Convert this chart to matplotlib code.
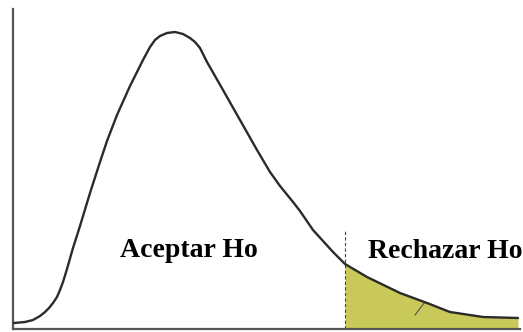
import matplotlib
matplotlib.use("Agg")
import matplotlib.pyplot as plt
import numpy as np

# curve (x position, height above baseline)
curve_x = [14, 25, 33, 40, 45, 49, 53, 57, 60, 63, 67, 73, 80, 90, 100, 107, 117, 130,
           143, 150, 155, 160, 167, 175, 183, 190, 195, 200, 207, 223, 240, 257, 270,
           280, 293, 300, 313, 323, 333, 345, 367, 400, 427, 450, 483, 518]
curve_y = [6, 7, 9, 13, 17, 21, 26, 32, 39, 47, 60, 81, 103, 136, 167, 188, 214, 243,
           269, 282, 289, 293, 296, 297, 295, 291, 287, 281, 267, 239, 209, 179, 157,
           143, 127, 118, 99, 88, 77, 65, 52, 36, 26, 17, 12, 11]
critical_x = 345
labels = ["Aceptar Ho", "Rechazar Ho"]

W, H = 523, 332
fig = plt.figure(figsize=(W / 100, H / 100), dpi=100)
ax = fig.add_axes([13 / W, (H - 329) / H, (520 - 13) / W, (329 - 9) / H])
ax.set_xlim(13, 520)
ax.set_ylim(0, 320)

cx = np.array(curve_x, dtype=float)
cy = np.array(curve_y, dtype=float)
mask = cx >= critical_x
ax.fill_between(cx[mask], 0, cy[mask], color="#C9C95A", linewidth=0, zorder=1)
ax.plot(cx, cy, color="#2b2b2b", linewidth=1.7, solid_capstyle="round",
        solid_joinstyle="round", zorder=3)

crit_h = cy[cx == critical_x][0]
ax.plot([critical_x, critical_x], [0, crit_h + 34], color="#444444", linewidth=0.8,
        linestyle=(0, (3, 2)), zorder=2)
ax.plot([415, 425], [329 - 315, 329 - 302], color="#555555", linewidth=0.8, zorder=2)

ax.text(120, 329 - 257, labels[0], fontfamily="Liberation Serif", fontweight="bold",
        fontsize=20, ha="left", va="baseline", color="black")
ax.text(368, 329 - 258, labels[1], fontfamily="Liberation Serif", fontweight="bold",
        fontsize=20, ha="left", va="baseline", color="black")

for s in ["top", "right"]:
    ax.spines[s].set_visible(False)
for s in ["left", "bottom"]:
    ax.spines[s].set_color("#555555")
    ax.spines[s].set_linewidth(1.6)
ax.set_xticks([])
ax.set_yticks([])

fig.savefig("out.png", dpi=100)
